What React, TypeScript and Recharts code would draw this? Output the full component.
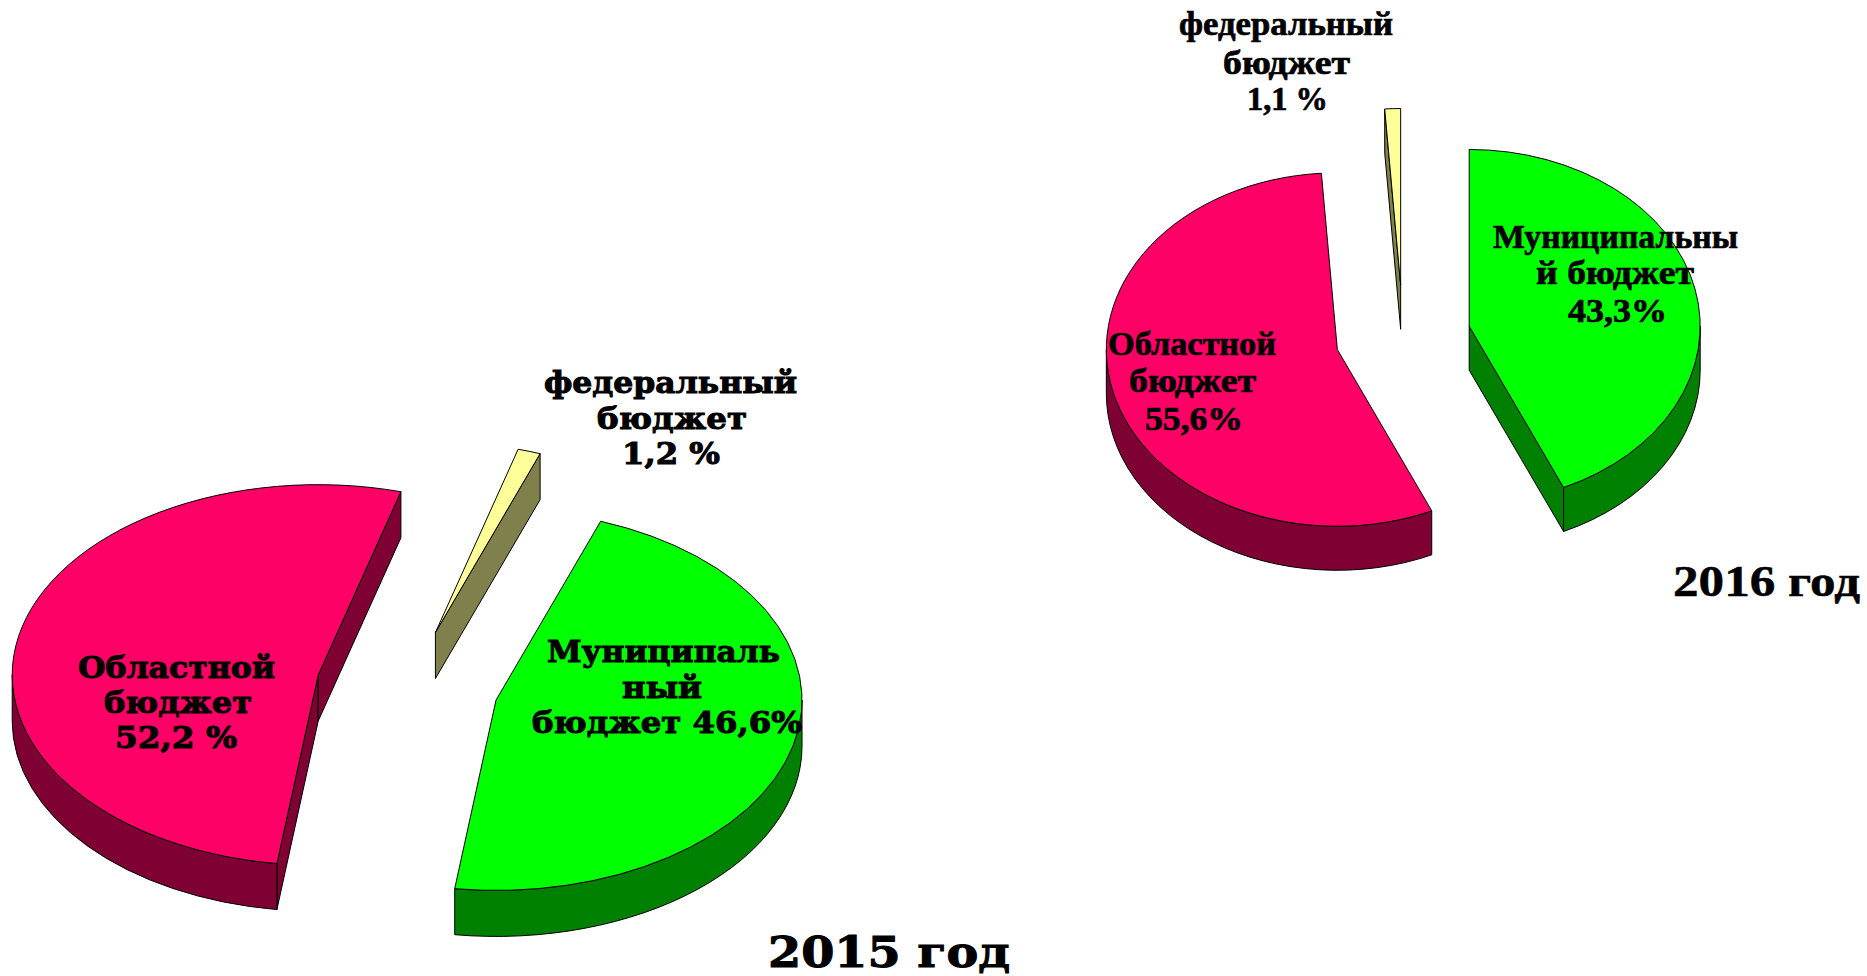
import React from "react";
import { PieChart, Pie } from "recharts";

const sources = ["Муниципальный бюджет", "Областной бюджет", "федеральный бюджет"];
const values2015 = [46.6, 52.2, 1.2];
const values2016 = [43.3, 55.6, 1.1];
const yearLabels = ["2015 год", "2016 год"];

const topColors = ["#00FF00", "#FF0066", "#FFFF99"];
const sideColors = ["#008000", "#7F0033", "#80804D"];

type Line = { t: string; x0: number; x1: number; y: number };

const SERIF = "'DejaVu Serif', serif";
const NARROW = "'Liberation Serif', serif";

const labels2015: Line[] = [
  { t: "федеральный", x0: 544, x1: 797, y: 393 },
  { t: "бюджет", x0: 597, x1: 747, y: 429 },
  { t: "1,2 %", x0: 622, x1: 720, y: 464 },
  { t: "Муниципаль", x0: 547, x1: 780, y: 662 },
  { t: "ный", x0: 622, x1: 702, y: 698 },
  { t: "бюджет 46,6%", x0: 532, x1: 802, y: 733 },
  { t: "Областной", x0: 78, x1: 275, y: 678 },
  { t: "бюджет", x0: 104, x1: 252, y: 713 },
  { t: "52,2 %", x0: 115, x1: 237, y: 748 },
];
const labels2016: Line[] = [
  { t: "федеральный", x0: 1179, x1: 1393, y: 35 },
  { t: "бюджет", x0: 1223, x1: 1350, y: 74 },
  { t: "1,1 %", x0: 1247, x1: 1328, y: 110 },
  { t: "Муниципальны", x0: 1493, x1: 1738, y: 248 },
  { t: "й бюджет", x0: 1536, x1: 1694, y: 284 },
  { t: "43,3%", x0: 1568, x1: 1667, y: 322 },
  { t: "Областной", x0: 1108, x1: 1276, y: 355 },
  { t: "бюджет", x0: 1129, x1: 1256, y: 392 },
  { t: "55,6%", x0: 1145, x1: 1243, y: 430 },
];

const table = (values: number[]) =>
  sources.map((name, i) => ({
    name,
    value: values[i],
    fill: topColors[i],
    side: sideColors[i],
  }));

const rad = (d: number) => (d * Math.PI) / 180;

function slice3D(tilt: number, depth: number, explode: number) {
  return function Slice3D(props: any) {
    const { cx, cy, outerRadius: rx, startAngle, endAngle, fill, payload } = props;
    const side = payload?.side ?? props.side;
    const ry = rx * tilt;
    // clockwise-from-top angles
    const a = 90 - startAngle;
    const b = 90 - endAngle;
    const mid = rad((a + b) / 2);
    const ox = cx + Math.sin(mid) * explode * rx;
    const oy = cy - Math.cos(mid) * explode * ry;
    const P = (d: number, dz = 0) => ({
      x: ox + Math.sin(rad(d)) * rx,
      y: oy - Math.cos(rad(d)) * ry + dz,
    });
    const arc = (to: { x: number; y: number }, large: boolean, sweep: number) =>
      `A${rx} ${ry} 0 ${large ? 1 : 0} ${sweep} ${to.x} ${to.y}`;

    const edge = (d: number, i: string) => {
      const p = P(d);
      return (
        <path
          key={i}
          d={`M${ox} ${oy}L${p.x} ${p.y}L${p.x} ${p.y + depth}L${ox} ${oy + depth}Z`}
          fill={side}
          stroke="#000"
          strokeWidth={1}
        />
      );
    };

    const walls: React.ReactNode[] = [];
    if (Math.sin(rad(a)) < -1e-6) walls.push(edge(a, "s"));
    if (Math.sin(rad(b)) > 1e-6) walls.push(edge(b, "e"));
    for (const k of [-360, 0, 360]) {
      const t0 = Math.max(a, 90 + k);
      const t1 = Math.min(b, 270 + k);
      if (t1 > t0) {
        const p0 = P(t0);
        const p1 = P(t1);
        const q0 = P(t0, depth);
        const q1 = P(t1, depth);
        walls.push(
          <path
            key={`o${k}`}
            d={`M${p0.x} ${p0.y}${arc(p1, t1 - t0 > 180, 1)}L${q1.x} ${q1.y}${arc(q0, t1 - t0 > 180, 0)}Z`}
            fill={side}
            stroke="#000"
            strokeWidth={1}
          />
        );
      }
    }
    const s = P(a);
    const e = P(b);
    return (
      <g>
        {walls}
        <path
          d={`M${ox} ${oy}L${s.x} ${s.y}${arc(e, b - a > 180, 1)}Z`}
          fill={fill}
          stroke="#000"
          strokeWidth={1}
        />
      </g>
    );
  };
}

const Lines = ({ lines, size, family, heavy = 0 }: { lines: Line[]; size: number; family: string; heavy?: number }) => (
  <g>
    {lines.map((l, i) => (
      <text
        key={i}
        x={l.x0}
        y={l.y}
        textLength={l.x1 - l.x0}
        lengthAdjust="spacingAndGlyphs"
        fontFamily={family}
        fontWeight={700}
        fontSize={size}
        fill="#000"
        stroke="#000"
        strokeWidth={heavy}
      >
        {l.t}
      </text>
    ))}
  </g>
);

export default function App() {
  return (
    <div style={{ position: "absolute", left: 0, top: 0, width: 1867, height: 976, background: "#fff", overflow: "hidden" }}>
      <PieChart width={1867} height={976} margin={{ top: 0, right: 0, bottom: 0, left: 0 }}>
        <Pie
          data={table(values2015)}
          dataKey="value"
          nameKey="name"
          cx={407.5}
          cy={686.5}
          innerRadius={0}
          outerRadius={306}
          startAngle={70}
          endAngle={-290}
          isAnimationActive={false}
          label={false}
          labelLine={false}
          shape={slice3D(0.622, 46, 0.298)}
          rootTabIndex={-1}
        />
        <Pie
          data={table(values2016)}
          dataKey="value"
          nameKey="name"
          cx={1403}
          cy={337}
          innerRadius={0}
          outerRadius={231}
          startAngle={90}
          endAngle={-270}
          isAnimationActive={false}
          label={false}
          labelLine={false}
          shape={slice3D(0.765, 44, 0.293)}
          rootTabIndex={-1}
        />
      </PieChart>
      <svg width={1867} height={976} style={{ position: "absolute", left: 0, top: 0, pointerEvents: "none" }}>
        <Lines lines={labels2015} size={29} family={SERIF} heavy={1} />
        <Lines lines={labels2016} size={34} family={NARROW} heavy={0.7} />
        <Lines lines={[{ t: yearLabels[0], x0: 768, x1: 1010, y: 967 }]} size={42} family={SERIF} heavy={1} />
        <Lines lines={[{ t: yearLabels[1], x0: 1673, x1: 1860, y: 596 }]} size={45} family={NARROW} heavy={0.5} />
      </svg>
    </div>
  );
}
